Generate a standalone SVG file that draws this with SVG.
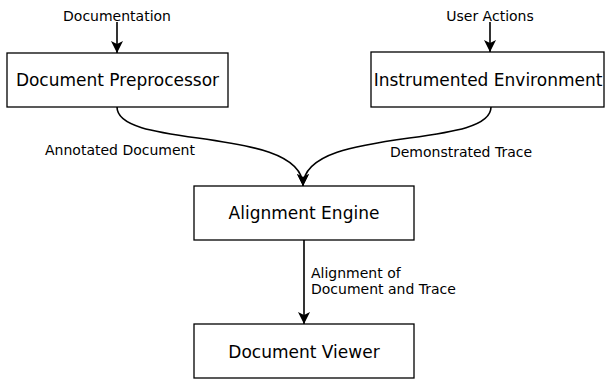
<svg xmlns="http://www.w3.org/2000/svg" width="605" height="379" viewBox="0 0 605 379">
<defs>
<style>
.box{fill:#fff;stroke:#000;stroke-width:1.3}
.lbl{font-family:"DejaVu Sans",sans-serif;font-size:17px;fill:#000;text-anchor:middle}
.sm{font-family:"DejaVu Sans",sans-serif;font-size:14px;fill:#000}
.edge{fill:none;stroke:#000;stroke-width:1.6}
</style>
<marker id="ah" markerWidth="14" markerHeight="12" refX="12" refY="6" orient="auto" markerUnits="userSpaceOnUse">
<path d="M0,0 L12,6 L0,12 L3,6 z" fill="#000"/>
</marker>
</defs>
<rect width="605" height="379" fill="#fff"/>
<g id="connectors">
<line class="edge" x1="117" y1="22" x2="117" y2="53" marker-end="url(#ah)"/>
<line class="edge" x1="490" y1="22" x2="490" y2="52" marker-end="url(#ah)"/>
<path class="edge" d="M117,107 C117,150 303,125 303,186" marker-end="url(#ah)"/>
<path class="edge" d="M491,107 C491,150 303,125 303,186" marker-end="url(#ah)"/>
<line class="edge" x1="304" y1="240" x2="304" y2="324" marker-end="url(#ah)"/>
</g>
<g id="in-doc"><text class="sm" x="117" y="21" text-anchor="middle">Documentation</text></g>
<g id="in-user"><text class="sm" x="490" y="21" text-anchor="middle">User Actions</text></g>
<g id="preproc"><rect class="box" x="7" y="53" width="221" height="54"/><text class="lbl" x="117.5" y="86">Document Preprocessor</text></g>
<g id="env"><rect class="box" x="371" y="52" width="233" height="55"/><text class="lbl" x="488" y="86">Instrumented Environment</text></g>
<g id="engine"><rect class="box" x="194" y="186" width="220" height="54"/><text class="lbl" x="304" y="219">Alignment Engine</text></g>
<g id="viewer"><rect class="box" x="194" y="324" width="220" height="54"/><text class="lbl" x="304" y="358">Document Viewer</text></g>
<g id="edge-labels">
<text class="sm" x="120" y="155" text-anchor="middle">Annotated Document</text>
<text class="sm" x="461" y="157" text-anchor="middle">Demonstrated Trace</text>
<text class="sm" x="311" y="278">Alignment of</text>
<text class="sm" x="311" y="294">Document and Trace</text>
</g>
</svg>
